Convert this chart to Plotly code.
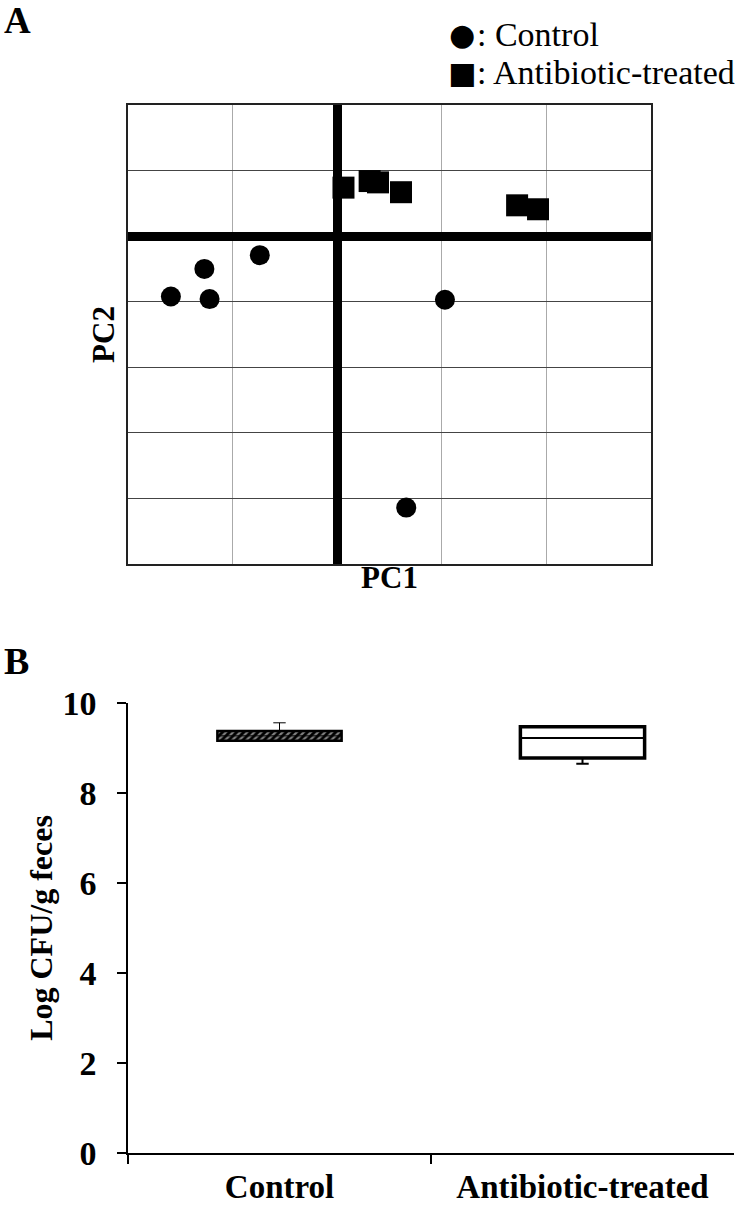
import plotly.graph_objects as go

# ---- Panel A: PCA scores ----
control_pc1 = [-1.59, -1.27, -1.22, -0.74, 1.03, 0.66]
control_pc2 = [-0.92, -0.50, -0.96, -0.29, -0.97, -4.14]
abx_pc1 = [0.06, 0.31, 0.39, 0.61, 1.72, 1.92]
abx_pc2 = [0.74, 0.84, 0.82, 0.67, 0.47, 0.41]
series_names = ["Control", "Antibiotic-treated"]
series_symbols = ["●", "■"]

# ---- Panel B: box summary (Log CFU/g feces) ----
groups = ["Control", "Antibiotic-treated"]
q1 = [9.16, 8.78]
median = [9.27, 9.22]
q3 = [9.38, 9.47]
lower = [9.15, 8.65]
upper = [9.56, 9.47]
y_ticks = [0, 2, 4, 6, 8, 10]

W, H = 738, 1207
SERIF = "Liberation Serif"


def px_x(p):
    return p / W


def px_y(p):
    return 1 - p / H


fig = go.Figure()

fig.add_trace(go.Scatter(
    x=control_pc1, y=control_pc2, mode="markers", name=series_names[0],
    marker=dict(symbol="circle", size=20, color="black"),
    xaxis="x", yaxis="y", showlegend=False))
fig.add_trace(go.Scatter(
    x=abx_pc1, y=abx_pc2, mode="markers", name=series_names[1],
    marker=dict(symbol="square", size=22, color="black"),
    xaxis="x", yaxis="y", showlegend=False))

# thick box bodies (control hatched) - bars are drawn beneath boxes
fig.add_trace(go.Bar(
    x=[groups[0]], y=[q3[0] - q1[0]], base=[q1[0]], width=0.41,
    marker=dict(color="black", line=dict(color="black", width=2.5),
                pattern=dict(shape="/", fgcolor="white", bgcolor="black",
                             size=5, solidity=0.45)),
    showlegend=False, xaxis="x2", yaxis="y2", hoverinfo="skip"))
fig.add_trace(go.Bar(
    x=[groups[1]], y=[q3[1] - q1[1]], base=[q1[1]], width=0.41,
    marker=dict(color="white", line=dict(color="black", width=3.5)),
    showlegend=False, xaxis="x2", yaxis="y2", hoverinfo="skip"))

# whiskers + median
box_line = [1.0, 2.0]
for i, g in enumerate(groups):
    fig.add_trace(go.Box(
        x=[g], q1=[q1[i]], median=[median[i]], q3=[q3[i]],
        lowerfence=[lower[i]], upperfence=[upper[i]],
        width=0.41, whiskerwidth=0.1,
        fillcolor="rgba(0,0,0,0)",
        line=dict(color="black", width=box_line[i]), showlegend=False,
        xaxis="x2", yaxis="y2", hoverinfo="skip"))

# legend drawn as text
legend_rows = [35, 72]
annotations = [
    dict(text="<b>A</b>", x=px_x(2), y=px_y(21), xref="paper", yref="paper",
         xanchor="left", yanchor="middle", showarrow=False, font=dict(size=37)),
    dict(text="<b>B</b>", x=px_x(2), y=px_y(661), xref="paper", yref="paper",
         xanchor="left", yanchor="middle", showarrow=False, font=dict(size=38)),
]
for sym, name, yy in zip(series_symbols, series_names, legend_rows):
    annotations.append(dict(text=sym, x=px_x(462), y=px_y(yy), xref="paper", yref="paper",
                            xanchor="center", yanchor="middle", showarrow=False,
                            font=dict(size=30, family="DejaVu Sans")))
    annotations.append(dict(text=": " + name, x=px_x(475), y=px_y(yy), xref="paper", yref="paper",
                            xanchor="left", yanchor="middle", showarrow=False,
                            font=dict(size=34, family=SERIF)))

fig.update_layout(
    width=W, height=H,
    margin=dict(l=0, r=0, t=0, b=0, autoexpand=False),
    plot_bgcolor="white", paper_bgcolor="white",
    font=dict(family=SERIF, color="black"),
    showlegend=False,
    xaxis=dict(domain=[px_x(128), px_x(651)], range=[-2, 3], dtick=1,
               showgrid=True, gridcolor="#aaaaaa", gridwidth=1,
               zeroline=True, zerolinecolor="black", zerolinewidth=9,
               showline=True, linecolor="#222222", linewidth=1.5, mirror=True,
               showticklabels=False, ticks="", fixedrange=True, automargin=False,
               title=dict(text="<b>PC1</b>", font=dict(size=31), standoff=2)),
    yaxis=dict(domain=[px_y(564), px_y(105)], range=[-5, 2], dtick=1,
               showgrid=True, gridcolor="#444444", gridwidth=1,
               zeroline=True, zerolinecolor="black", zerolinewidth=9,
               showline=True, linecolor="#222222", linewidth=1.5, mirror=True,
               showticklabels=False, ticks="", fixedrange=True, automargin=False,
               title=dict(text="<b>PC2</b>", font=dict(size=31), standoff=2)),
    xaxis2=dict(domain=[px_x(128), px_x(734)], anchor="y2",
                type="category", categoryorder="array", categoryarray=groups,
                range=[-0.5, 1.5], tickson="boundaries", ticks="outside",
                ticklen=9, tickcolor="black", tickwidth=1.5,
                showline=True, linecolor="black", linewidth=1.5,
                showgrid=False, zeroline=False, automargin=False,
                tickprefix="<b>", ticksuffix="</b>",
                tickfont=dict(size=33), ticklabelstandoff=4),
    yaxis2=dict(domain=[px_y(1153), px_y(703)], anchor="x2", range=[0, 10],
                tickvals=y_ticks, ticktext=[f"<b>{v}</b>" for v in y_ticks],
                ticks="outside", ticklen=9, tickcolor="black", tickwidth=1.5,
                showline=True, linecolor="black", linewidth=1.5,
                showgrid=False, zeroline=False, tickfont=dict(size=34),
                ticklabelstandoff=14, automargin=False,
                title=dict(text="<b>Log CFU/g feces</b>", font=dict(size=32), standoff=0)),
    boxmode="overlay", barmode="overlay",
    annotations=annotations,
)

fig.write_html("out.html", config={"displayModeBar": False},
               post_script="document.body.style.margin='0';")
